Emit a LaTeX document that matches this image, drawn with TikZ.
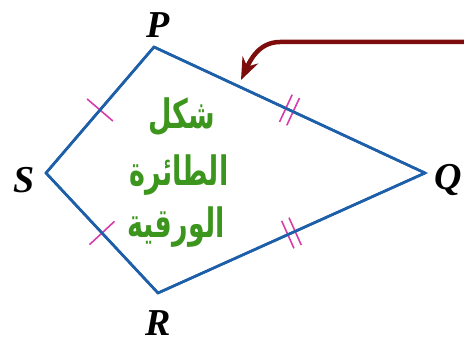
\documentclass[tikz,border=0pt]{standalone}
\usepackage{fontspec}
\setmainfont{Liberation Serif}
\newfontfamily\arabicfont[Script=Arabic]{DejaVu Sans}
\TeXXeTstate=1
\usetikzlibrary{arrows.meta, decorations.markings}

\definecolor{kiteblue}{RGB}{30,95,170}
\definecolor{tickpink}{RGB}{215,60,170}
\definecolor{arrowred}{RGB}{125,12,12}
\definecolor{textgreen}{RGB}{60,150,30}

\begin{document}
\begin{tikzpicture}[x=1pt, y=-1pt,
  vlabel/.style={font=\fontsize{38}{40}\selectfont\bfseries\itshape, inner sep=0pt},
  side/.style={draw=kiteblue, line width=2.6pt, line join=miter},
  onetick/.style={postaction={decorate, decoration={markings,
      mark=at position 0.5 with {\draw[tickpink, line width=1.6pt] (0,-17pt) -- (0,17pt);}}}},
  twotick/.style={postaction={decorate, decoration={markings,
      mark=at position 0.5 with {\draw[tickpink, line width=1.6pt]
        (-4pt,-15pt) -- (-4pt,15pt) (4pt,-15pt) -- (4pt,15pt);}}}},
  wordline/.style={font=\arabicfont\bfseries\fontsize{27}{30}\selectfont, text=textgreen, inner sep=0pt},
  arr/.style={-{Stealth[length=22pt, width=17pt]}, draw=arrowred, line width=4.5pt}
]
  \useasboundingbox (0,0) rectangle (464,347);

  \coordinate (P) at (154,47);
  \coordinate (Q) at (425,173);
  \coordinate (R) at (158,293);
  \coordinate (S) at (46,173);

  \node[vlabel] (lp) at (158,25)  {P};
  \node[vlabel] (lq) at (448,180) {Q};
  \node[vlabel] (lr) at (158,323) {R};
  \node[vlabel] (ls) at (24,180)  {S};

  % sides with equal-length marks
  \draw[side, onetick] (S) -- (P);
  \draw[side, twotick] (P) -- (Q);
  \draw[side, twotick] (R) -- (Q);
  \draw[side, onetick] (S) -- (R);
  \draw[side] (P) -- (Q) -- (R) -- (S) -- cycle;

  \node[wordline] (word1) at (182,117) {\scalebox{1}[1.5]{\beginR شكل\endR}};
  \node[wordline] (word2) at (179,175) {\scalebox{1}[1.5]{\beginR الطائرة\endR}};
  \node[wordline] (word3) at (176,227) {\scalebox{1}[1.5]{\beginR الورقية\endR}};

  \coordinate (arrstart) at (466,42);
  \coordinate (arrend) at (241,80);
  \draw[arr] (arrstart) -- (280,42) to[out=180, in=65] (arrend);
\end{tikzpicture}
\end{document}
